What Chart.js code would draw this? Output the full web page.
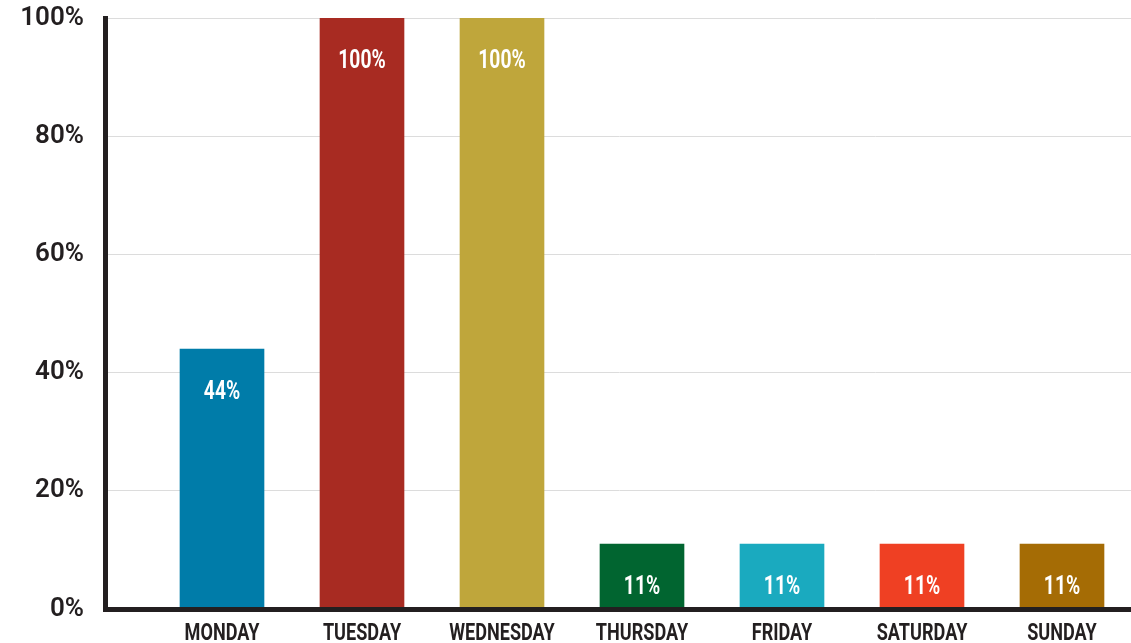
<!DOCTYPE html>
<html>
<head>
<meta charset="utf-8">
<script src="https://cdn.jsdelivr.net/npm/chart.js@4"></script>
<style>
  body { margin: 0; background: #fff; }
  #wrap { width: 1131px; height: 643px; position: relative; }
</style>
</head>
<body>
<div id="wrap"><canvas id="dayChart"></canvas></div>
<script>
// chart data
const days = ['MONDAY', 'TUESDAY', 'WEDNESDAY', 'THURSDAY', 'FRIDAY', 'SATURDAY', 'SUNDAY'];
const shares = [44, 100, 100, 11, 11, 11, 11];
const dayColors = ['#007ca9', '#a82b22', '#bfa63b', '#016530', '#1aaabf', '#ef4023', '#a56c05'];
const yTicks = [0, 20, 40, 60, 80, 100];

const ink = '#231f20';
const squeeze = 0.77; // poor man's condensed font

// condensed text: value labels in the bars + day names under the axis
const condensedText = {
  id: 'condensedText',
  afterDatasetsDraw(chart) {
    const ctx = chart.ctx;
    const meta = chart.getDatasetMeta(0);
    const xs = chart.scales.x;
    ctx.save();
    ctx.textAlign = 'center';
    ctx.textBaseline = 'alphabetic';

    ctx.fillStyle = '#ffffff';
    ctx.font = 'bold 25px Roboto, sans-serif';
    meta.data.forEach((bar, i) => {
      ctx.save();
      ctx.translate(bar.x, bar.y + 50);
      ctx.scale(squeeze, 1);
      ctx.fillText(shares[i] + '%', 0, 0);
      ctx.restore();
    });

    ctx.fillStyle = ink;
    ctx.font = 'bold 23.5px Roboto, sans-serif';
    days.forEach((d, i) => {
      ctx.save();
      ctx.translate(xs.getPixelForValue(i + 1), xs.top + 31);
      ctx.scale(squeeze, 1);
      ctx.fillText(d, 0, 0);
      ctx.restore();
    });
    ctx.restore();
  }
};

const ctx = document.getElementById('dayChart').getContext('2d');

const dayChart = new Chart(ctx, {
  type: 'bar',
  data: {
    datasets: [{
      data: days.map((d, i) => ({ x: i + 1, y: shares[i] })),
      backgroundColor: dayColors,
      borderWidth: 0,
      barThickness: 84
    }]
  },
  options: {
    responsive: true,
    maintainAspectRatio: false,
    animation: false,
    layout: { padding: { top: 18, right: 0, left: 0, bottom: 0 } },
    plugins: {
      legend: { display: false },
      tooltip: { enabled: false }
    },
    scales: {
      x: {
        type: 'linear',
        min: 0.1643,
        max: 7.4929,
        offset: false,
        grid: { display: false, offset: false },
        border: { display: true, color: ink, width: 5, z: 1 },
        afterBuildTicks: (scale) => { scale.ticks = days.map((d, i) => ({ value: i + 1 })); },
        afterFit: (scale) => { scale.height = 34; scale.paddingLeft = 0; scale.paddingRight = 0; },
        ticks: { display: false }
      },
      y: {
        min: 0,
        max: 100,
        afterBuildTicks: (scale) => { scale.ticks = yTicks.map(v => ({ value: v })); },
        afterFit: (scale) => { scale.width = 105; scale.paddingTop = 0; scale.paddingBottom = 0; },
        grid: { color: '#dcdcdc', lineWidth: 1, drawTicks: false },
        border: { display: true, color: ink, width: 5, z: 1 },
        ticks: {
          padding: 21,
          color: ink,
          font: { family: "'Roboto', 'DejaVu Sans', sans-serif", size: 26, weight: '600' },
          callback: (v) => v + '%'
        }
      }
    }
  },
  plugins: [condensedText]
});
</script>
</body>
</html>
